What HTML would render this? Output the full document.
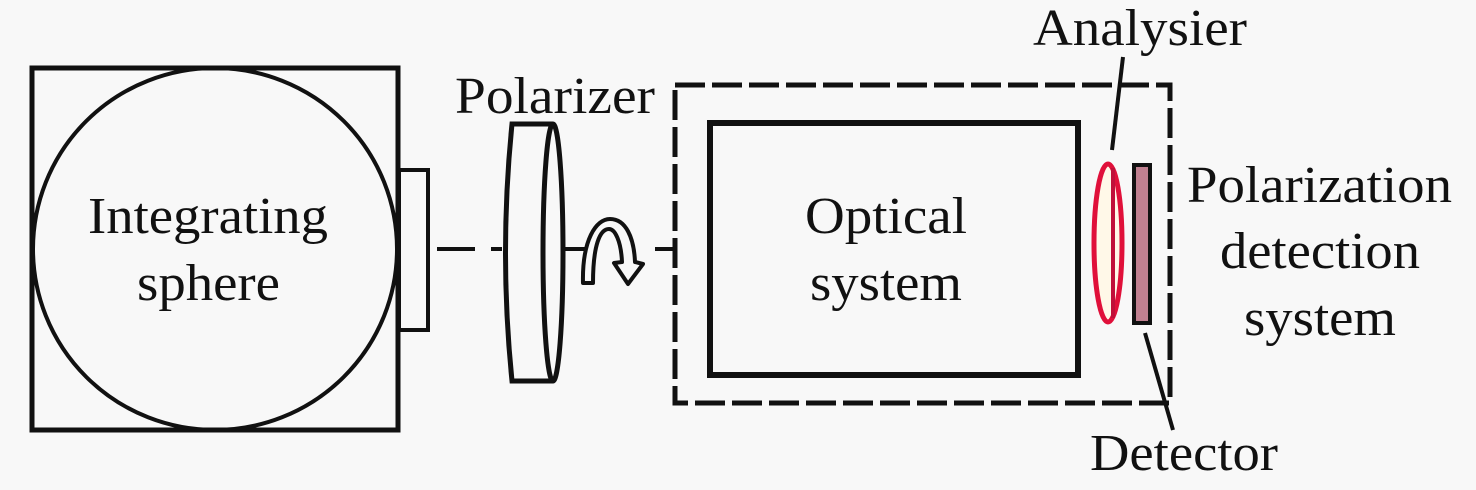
<!DOCTYPE html>
<html><head><style>
html,body{margin:0;padding:0;background:#f8f8f8;}
svg{display:block;}
</style></head><body>
<svg width="1476" height="490" viewBox="0 0 1476 490" xmlns="http://www.w3.org/2000/svg">
<rect x="0" y="0" width="1476" height="490" fill="#f8f8f8"/>
<g font-size="52" fill="#111" style="font-family:'Liberation Serif','DejaVu Serif','Noto Serif CJK SC',serif">
<text x="88" y="233" textLength="240" lengthAdjust="spacingAndGlyphs">Integrating</text>
<text x="137" y="300" textLength="143" lengthAdjust="spacingAndGlyphs">sphere</text>
<text x="455" y="113" textLength="200" lengthAdjust="spacingAndGlyphs">Polarizer</text>
<text x="805" y="233" textLength="162" lengthAdjust="spacingAndGlyphs">Optical</text>
<text x="810" y="300" textLength="152" lengthAdjust="spacingAndGlyphs">system</text>
<text x="1033" y="45" textLength="214" lengthAdjust="spacingAndGlyphs">Analysier</text>
<text x="1187" y="202" textLength="265" lengthAdjust="spacingAndGlyphs">Polarization</text>
<text x="1220" y="268" textLength="200" lengthAdjust="spacingAndGlyphs">detection</text>
<text x="1244" y="335" textLength="152" lengthAdjust="spacingAndGlyphs">system</text>
<text x="1090" y="470" textLength="188" lengthAdjust="spacingAndGlyphs">Detector</text>
</g>
<rect x="32" y="68" width="366" height="362" fill="none" stroke="#111" stroke-width="5"/>
<ellipse cx="215" cy="249" rx="182" ry="181" fill="none" stroke="#111" stroke-width="4"/>
<rect x="399" y="170" width="29" height="160" fill="none" stroke="#111" stroke-width="4"/>
<line x1="437" y1="249" x2="502" y2="249" stroke="#111" stroke-width="4" stroke-dasharray="38,16"/>
<line x1="563" y1="249" x2="673" y2="249" stroke="#111" stroke-width="4" stroke-dasharray="30,62"/>
<path d="M553 124 L512 124 Q499 253 512 381 L553 381" fill="none" stroke="#111" stroke-width="5"/>
<ellipse cx="553" cy="252.5" rx="10" ry="128.5" fill="none" stroke="#111" stroke-width="5"/>
<path d="M583 283 C582 240 596 219 610 219 C626 219 634 238 635 262 L643 264 L628 284 L614 263 L622 262 C621 241 615 229 609 229 C600 229 593 245 593 283 Z" fill="#f8f8f8" stroke="#111" stroke-width="4" stroke-linejoin="round"/>
<rect x="675" y="85" width="495" height="318" fill="none" stroke="#111" stroke-width="5" stroke-dasharray="30,7"/>
<rect x="710" y="123" width="368" height="252" fill="none" stroke="#111" stroke-width="6"/>
<ellipse cx="1108" cy="243" rx="14" ry="79" fill="#fff8e8" stroke="#e0103a" stroke-width="5"/>
<line x1="1113" y1="168" x2="1113" y2="318" stroke="#c0103a" stroke-width="4"/>
<rect x="1134" y="165" width="16" height="158" fill="#c08090" stroke="#111" stroke-width="4"/>
<line x1="1123" y1="57" x2="1112" y2="150" stroke="#111" stroke-width="4"/>
<line x1="1145" y1="333" x2="1173" y2="430" stroke="#111" stroke-width="4"/>
</svg>
</body></html>
